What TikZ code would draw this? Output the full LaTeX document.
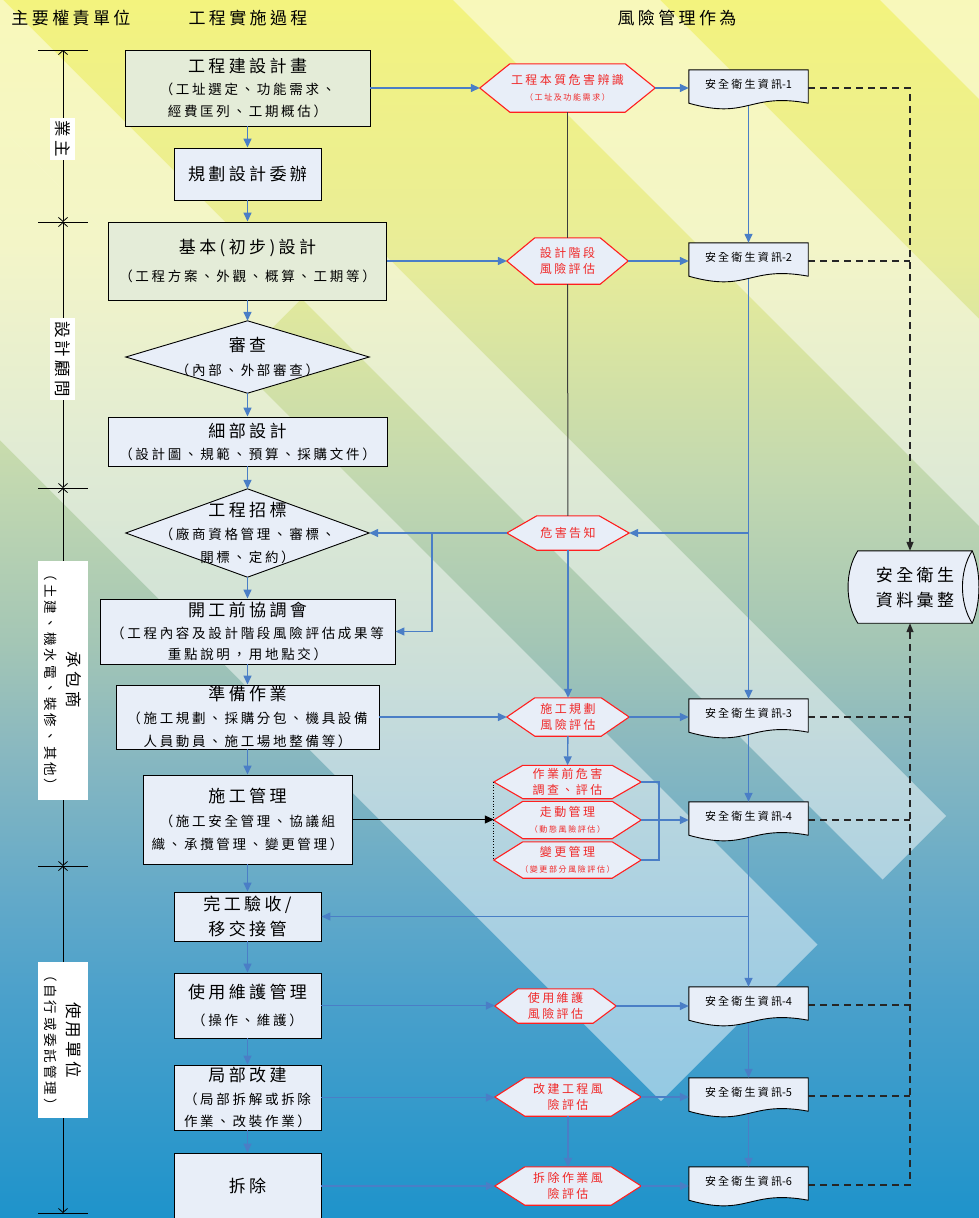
\documentclass[tikz,border=0pt]{standalone}
\usepackage{fontspec}
\usetikzlibrary{arrows.meta,calc}
\newfontfamily\zh[LetterSpace=20]{Noto Sans CJK TC}
\newfontfamily\zhn{Noto Sans CJK TC}
\newcommand\zhT{\fontsize{17}{22}\selectfont}
\newcommand\zhS{\fontsize{13.5}{22}\selectfont}
\newcommand\zhH{\fontsize{12}{16.5}\selectfont}
\newcommand\zhHs{\fontsize{8}{16.5}\selectfont}
\newcommand\zhD{\fontsize{11}{14}\selectfont}
\newcommand\zhA{\fontsize{16.5}{22}\selectfont}
\newcommand\rectext[1]{\smash{安全衛生資訊{\zhn -#1}}}

\definecolor{flow}{HTML}{4A7EC6}
\definecolor{risk}{HTML}{FF1F1F}
\definecolor{risktext}{HTML}{F02828}
\definecolor{paper}{HTML}{E8EEF8}
\definecolor{paperg}{HTML}{E4ECD8}
\definecolor{guide}{HTML}{3C3C3C}
\definecolor{bgA}{HTML}{F3F37E}
\definecolor{bgB}{HTML}{E9ED98}
\definecolor{bgC}{HTML}{C2D8B0}
\definecolor{bgD}{HTML}{A4C6B5}
\definecolor{bgE}{HTML}{89B8C0}
\definecolor{bgF}{HTML}{62A9C9}
\definecolor{bgG}{HTML}{4AA0CB}
\definecolor{bgH}{HTML}{1E93CB}
\pgfdeclareverticalshading{bgshade}{100bp}{color(0bp)=(bgH); color(25bp)=(bgH); color(33.95bp)=(bgG); color(38.05bp)=(bgF); color(44.2bp)=(bgE); color(48.7bp)=(bgD); color(55.3bp)=(bgC); color(64.7bp)=(bgB); color(75bp)=(bgA); color(100bp)=(bgA)}

\pgfdeclarelayer{back}
\pgfdeclarelayer{mid}
\pgfsetlayers{back,mid,main}

\tikzset{
  proc/.style={draw=black, line width=0.9pt, fill=paper, align=center, inner sep=0pt, font=\zh\zhS, text=black},
  decision/.style={align=center, inner sep=0pt, font=\zh\zhS, text=black},
  shapeline/.style={draw=black, line width=0.9pt, fill=paper},
  hexn/.style={align=center, inner sep=0pt, font=\zh\zhH, text=risktext},
  hexline/.style={draw=risk, line width=1.1pt, fill=paper},
  docn/.style={inner sep=0pt, minimum width=119pt, minimum height=36pt, font=\zh\zhD, text=black},
  docline/.style={draw=black, line width=0.9pt, fill=paper},
  hdr/.style={font=\zh\zhT, text=black, inner sep=0pt},
  axlab/.style={fill=white, inner sep=0pt, align=center, rotate=-90, font=\zh\zhA, text=black},
  axisline/.style={draw=black, line width=0.8pt},
  axisarrow/.style={draw=black, line width=0.8pt, {Straight Barb[length=4pt,width=9pt]}-{Straight Barb[length=4pt,width=9pt]}},
  flowarrow/.style={draw=flow, line width=1.4pt, -{Triangle[length=9pt,width=8pt]}},
  flowline/.style={draw=flow, line width=1.4pt},
  guideline/.style={draw=guide, line width=1pt},
  dashlink/.style={draw=black!85, line width=1.3pt, dash pattern=on 7pt off 5pt},
  dasharrow/.style={dashlink, -{Triangle[length=9pt,width=7pt]}},
  band/.style={fill=white, opacity=0.47},
}

\newcommand\hexpath[2]{\filldraw[hexline] (#1.west) -- ([xshift=#2pt]#1.north west) -- ([xshift=-#2pt]#1.north east) -- (#1.east) -- ([xshift=-#2pt]#1.south east) -- ([xshift=#2pt]#1.south west) -- cycle;}
\newcommand\docpath[1]{\filldraw[docline] (#1.north east) -- (#1.north west) -- ([yshift=3pt]#1.south west) .. controls ([yshift=-14pt]#1.south) and ([yshift=14pt]#1.south) .. ([yshift=3pt]#1.south east) -- cycle;}
\newcommand\diapath[1]{\filldraw[shapeline] (#1.north) -- (#1.east) -- (#1.south) -- (#1.west) -- cycle;}

\begin{document}
\begin{tikzpicture}[x=1pt, y=-1pt]
\useasboundingbox (0,0) rectangle (979,1218);

% ---------- background: gradient with light diagonal bands ----------
\begin{pgfonlayer}{back}
\begin{scope}
  \clip (0,0) rectangle (979,1218);
  \shade[shading=bgshade] (0,0) rectangle (979,1218);
  % long band ending in the lower V
  \fill[band] (-127,0) -- (817.5,944.5) -- (661,1101) -- (-440,0) -- cycle;
  % stepped band: upper part on the left, lower part shifted right
  \fill[band] (-127,0) -- (3,0) -- (301.5,298.5) -- (236.5,363.5) -- cycle;
  \fill[band] (301.5,298.5) -- (365,235) -- (946,816) -- (882.5,879.5) -- cycle;
  % upper right bands
  \fill[band] (453,0) -- (660,0) -- (1400,740) -- (1193,740) -- cycle;
  \fill[band] (880,0) -- (1200,0) -- (1500,300) -- (1180,300) -- cycle;
\end{scope}
\end{pgfonlayer}

% ---------- column headers ----------
\node[hdr] (hAuth) at (71,18) {主要權責單位};
\node[hdr] (hProc) at (248,18) {工程實施過程};
\node[hdr] (hRisk) at (677,18) {風險管理作為};

% ---------- responsibility axis ----------
\coordinate (ax0) at (63,50);
\coordinate (ax1) at (63,222);
\coordinate (ax2) at (63,488);
\coordinate (ax3) at (63,866);
\coordinate (ax4) at (63,1213);
\foreach \p in {ax0,ax1,ax2,ax3,ax4}
  \draw[axisline] ([xshift=-25pt]\p) -- ([xshift=25pt]\p);
\draw[axisarrow] (ax0) -- (ax1);
\draw[axisarrow] (ax1) -- (ax2);
\draw[axisarrow] (ax2) -- (ax3);
\draw[axisarrow] (ax3) -- (ax4);
\node[axlab, minimum width=42pt, minimum height=25pt] (owner) at (62.5,139) {業主};
\node[axlab, minimum width=82pt, minimum height=25pt] (consult) at (62.5,359) {設計顧問};
\node[axlab, minimum width=239pt, minimum height=50pt] (contractor) at (63,680) {承包商\\{\zhS （土建、機水電、裝修、其他）}};
\node[axlab, minimum width=156pt, minimum height=50pt] (user) at (63,1040) {使用單位\\{\zhS （自行或委託管理）}};

% ---------- project process ----------
\node[proc, fill=paperg, minimum width=245pt, minimum height=76pt] (plan) at (247.5,88) {{\zhT 工程建設計畫}\\（工址選定、功能需求、\\經費匡列、工期概估）};
\node[proc, minimum width=147pt, minimum height=52pt] (commission) at (247.5,174) {\zhT 規劃設計委辦};
\node[proc, fill=paperg, minimum width=278pt, minimum height=78pt] (basic) at (247.5,261) {{\zhT 基本(初步)設計}\\[6pt]（工程方案、外觀、概算、工期等）};
\node[decision, minimum width=243pt, minimum height=72pt] (review) at (247.5,357) {{\zhT 審查}\\[2pt]（內部、外部審查）};
\node[proc, minimum width=279pt, minimum height=49pt] (detail) at (247.5,441.5) {{\zhT 細部設計}\\（設計圖、規範、預算、採購文件）};
\node[decision, minimum width=243pt, minimum height=88pt] (tender) at (247.5,533) {{\zhT 工程招標}\\[1pt]（廠商資格管理、審標、\\[1pt]開標、定約）};
\node[proc, minimum width=295pt, minimum height=65pt] (kickoff) at (247.5,631.5) {{\zhT 開工前協調會}\\[-0.5pt]（工程內容及設計階段風險評估成果等\\[-0.5pt]重點說明，用地點交）};
\node[proc, minimum width=263pt, minimum height=64pt] (prep) at (247.5,717) {{\zhT 準備作業}\\[1pt]（施工規劃、採購分包、機具設備\\[1pt]人員動員、施工場地整備等）};
\node[proc, minimum width=209pt, minimum height=89pt] (cmgmt) at (247.5,819.5) {{\zhT 施工管理}\\[1.5pt]（施工安全管理、協議組\\[1.5pt]織、承攬管理、變更管理）};
\node[proc, minimum width=147pt, minimum height=49pt] (handover) at (247.5,916.5) {{\zhT 完工驗收/}\\[3pt]{\zhT 移交接管}};
\node[proc, minimum width=147pt, minimum height=65pt] (maint) at (247.5,1005.5) {{\zhT 使用維護管理}\\[5pt]（操作、維護）};
\node[proc, minimum width=147pt, minimum height=65pt] (renov) at (247.5,1097.5) {{\zhT 局部改建}\\[0.5pt]（局部拆解或拆除\\[0.5pt]作業、改裝作業）};
\node[proc, minimum width=147pt, minimum height=66pt] (demol) at (247.5,1186) {\zhT 拆除};

% ---------- risk management actions ----------
\node[hexn, minimum width=175pt, minimum height=48pt] (hazid) at (567.5,88) {工程本質危害辨識\\{\zhHs （工址及功能需求）}};
\node[hexn, minimum width=121pt, minimum height=46pt] (designrisk) at (567.5,261) {設計階段\\風險評估};
\node[hexn, minimum width=122pt, minimum height=34pt] (notify) at (568,533) {危害告知};
\node[hexn, minimum width=122pt, minimum height=38pt] (planrisk) at (568,717) {施工規劃\\風險評估};
\node[hexn, minimum width=147pt, minimum height=33pt] (pretask) at (567.5,782) {作業前危害\\調查、評估};
\node[hexn, minimum width=147pt, minimum height=37pt] (walk) at (567.5,820) {走動管理\\{\zhHs （動態風險評估）}};
\node[hexn, minimum width=147pt, minimum height=36pt] (change) at (567.5,860) {變更管理\\{\zhHs （變更部分風險評估）}};
\node[hexn, minimum width=121pt, minimum height=34pt] (maintrisk) at (555.5,1006) {使用維護\\風險評估};
\node[hexn, minimum width=146pt, minimum height=38pt] (renovrisk) at (568,1097) {改建工程風\\險評估};
\node[hexn, minimum width=146pt, minimum height=38pt] (demolrisk) at (568,1186) {拆除作業風\\險評估};

% ---------- safety and health records ----------
\node[docn] (rec1) at (748.5,88) {\rectext{1}};
\node[docn] (rec2) at (748.5,261) {\rectext{2}};
\node[docn] (rec3) at (748.5,717) {\rectext{3}};
\node[docn] (rec4) at (748.5,820) {\rectext{4}};
\node[docn] (rec4b) at (748.5,1005) {\rectext{4}};
\node[docn] (rec5) at (748.5,1096) {\rectext{5}};
\node[docn] (rec6) at (748.5,1185) {\rectext{6}};
\node[align=center, inner sep=0pt, minimum width=114pt, minimum height=72pt, font=\zh\fontsize{17}{25}\selectfont] (store) at (915,587) {安全衛生\\資料彙整};

% ---------- outlines of the custom shapes ----------
\begin{pgfonlayer}{mid}
  \diapath{review}
  \diapath{tender}
  \hexpath{hazid}{30}
  \hexpath{designrisk}{28}
  \hexpath{notify}{30}
  \hexpath{planrisk}{28}
  \hexpath{pretask}{29}
  \hexpath{walk}{29}
  \hexpath{change}{29}
  \hexpath{maintrisk}{23}
  \hexpath{renovrisk}{30}
  \hexpath{demolrisk}{30}
  \foreach \r in {rec1,rec2,rec3,rec4,rec4b,rec5,rec6} {\docpath{\r}}
  \filldraw[docline] (store.north west) -- (store.north east)
    .. controls ($(store.north east)+(9,20)$) and ($(store.south east)+(9,-20)$) .. (store.south east)
    -- (store.south west)
    .. controls ($(store.south west)+(-13,-20)$) and ($(store.north west)+(-13,20)$) .. (store.north west) -- cycle;
  \draw[docline, fill=none] (store.north east)
    .. controls ($(store.north east)+(-13,20)$) and ($(store.south east)+(-13,-20)$) .. (store.south east);
\end{pgfonlayer}

% ---------- process flow ----------
\draw[flowarrow] (plan) -- (commission);
\draw[flowarrow] (commission) -- (basic);
\draw[flowarrow] (basic) -- (review);
\draw[flowarrow] (review) -- (detail);
\draw[flowarrow] (detail) -- (tender);
\draw[flowarrow] (tender) -- (kickoff);
\draw[flowarrow] (kickoff) -- (prep);
\draw[flowarrow] (prep) -- (cmgmt);
\draw[flowarrow] (cmgmt) -- (handover);
\draw[flowarrow] (handover) -- (maint);
\draw[flowarrow] (maint) -- (renov);
\draw[flowarrow] (renov) -- (demol);

% ---------- process to risk actions ----------
\draw[flowarrow] (plan.east) -- (plan.east -| hazid.west);
\draw[flowarrow] (basic.east) -- (basic.east -| designrisk.west);
\draw[flowarrow] (prep.east) -- (prep.east -| planrisk.west);
\draw[draw=black, line width=1pt, -{Triangle[length=9pt,width=8pt]}] (cmgmt.east) -- (cmgmt.east -| walk.west);
\draw[flowarrow] (maint.east) -- (maint.east -| maintrisk.west);
\draw[flowarrow] (renov.east) -- (renov.east -| renovrisk.west);
\draw[flowarrow] (demol.east) -- (demol.east -| demolrisk.west);

% ---------- risk actions to records ----------
\draw[flowarrow] (hazid.east) -- (hazid.east -| rec1.west);
\draw[flowarrow] (designrisk.east) -- (designrisk.east -| rec2.west);
\draw[flowarrow] (planrisk.east) -- (planrisk.east -| rec3.west);
\draw[flowarrow] (walk.east) -- (walk.east -| rec4.west);
\draw[flowarrow] (maintrisk.east) -- (maintrisk.east -| rec4b.west);
\draw[flowarrow] (renovrisk.east) -- (renovrisk.east -| rec5.west);
\draw[flowarrow] (demolrisk.east) -- (demolrisk.east -| rec6.west);

% ---------- links between risk actions ----------
\draw[guideline] (hazid) -- (designrisk);
\draw[guideline] (designrisk) -- (notify);
\draw[flowarrow] (notify) -- (planrisk);
\draw[flowarrow] (planrisk) -- (pretask);
\draw[flowarrow] (renovrisk) -- (demolrisk);
\draw[draw=black, line width=0.7pt, dotted] (pretask.west) -- (change.west);
\coordinate (bracket) at (659,820);
\draw[flowline] (pretask.east) -| (bracket) |- (change.east);

% ---------- hazard notice back to tendering and kickoff ----------
\draw[flowarrow] (notify.west) -- (notify.west -| tender.east);
\coordinate (notifybranch) at (432,533);
\draw[flowarrow] (notifybranch) |- (kickoff.east);

% ---------- record chain ----------
\draw[flowarrow] (rec1) -- (rec2);
\draw[flowarrow] (rec2.south) |- (notify.east);
\draw[flowarrow] (rec2) -- (rec3);
\draw[flowarrow] (rec3) -- (rec4);
\draw[flowarrow] (rec4.south) |- (handover.east);
\draw[flowarrow] (rec4) -- (rec4b);
\draw[flowarrow] (rec4b) -- (rec5);
\draw[flowarrow] (rec5) -- (rec6);

% ---------- records gathered into the archive ----------
\coordinate (archivecol) at (910,0);
\draw[dasharrow] (rec1.east) -| ([xshift=-5pt]store.north);
\draw[dashlink] (rec2.east) -- (rec2.east -| archivecol);
\draw[dasharrow] (rec6.east) -| ([xshift=-5pt]store.south);
\draw[dashlink] (rec3.east) -- (rec3.east -| archivecol);
\draw[dashlink] (rec4.east) -- (rec4.east -| archivecol);
\draw[dashlink] (rec4b.east) -- (rec4b.east -| archivecol);
\draw[dashlink] (rec5.east) -- (rec5.east -| archivecol);
\end{tikzpicture}
\end{document}
